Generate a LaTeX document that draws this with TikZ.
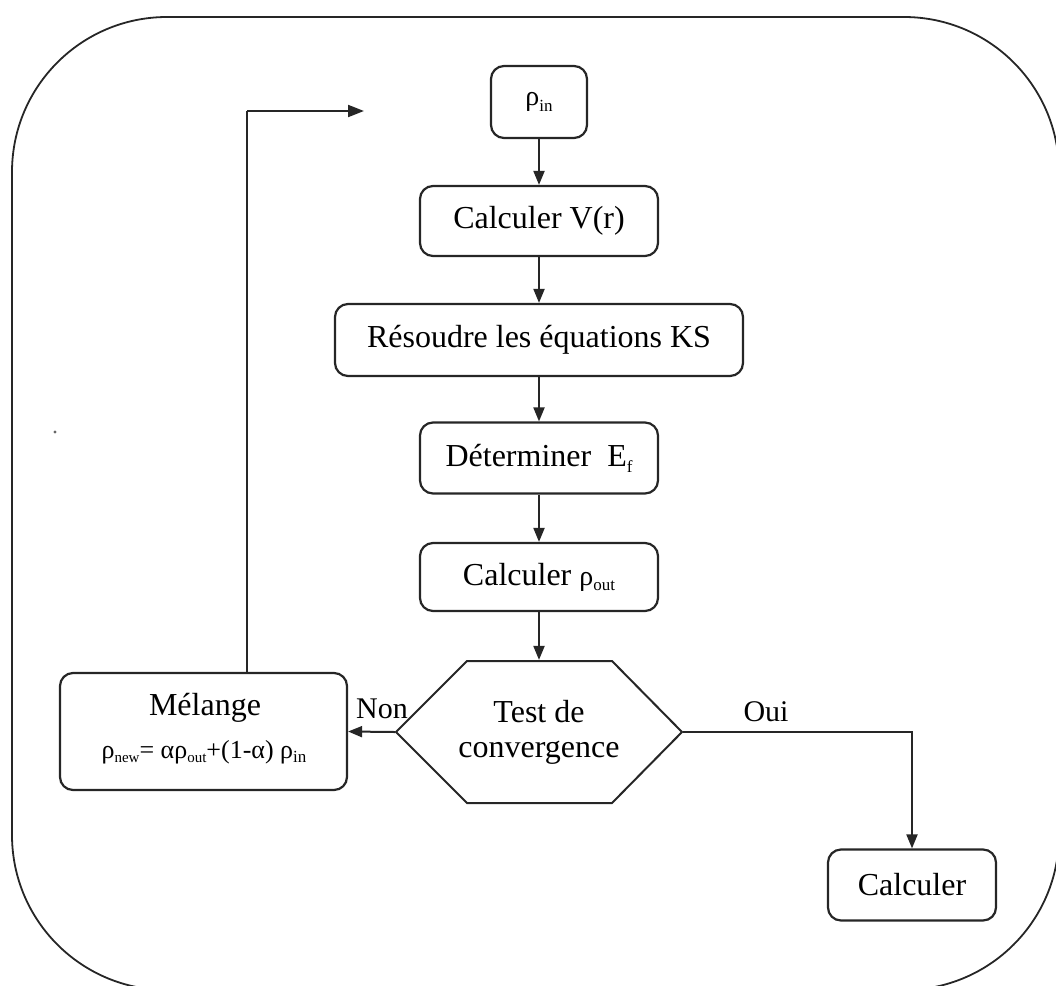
\documentclass[tikz,border=0pt]{standalone}
\usepackage{fontspec}
\setmainfont{Liberation Serif}
\usetikzlibrary{arrows.meta}
\newcommand{\mysub}[1]{\raisebox{-0.18em}{\fontsize{17}{17}\selectfont #1}}
\newcommand{\mysmallsub}[1]{\raisebox{-0.15em}{\fontsize{15}{15}\selectfont #1}}
\begin{document}
\begin{tikzpicture}[x=1pt,y=-1pt,
  line width=2.2pt,
  box/.style={draw=black!85, line width=2.2pt, rounded corners=13pt, inner sep=0pt, align=center,
    font=\fontsize{32}{36}\selectfont},
  conn/.style={draw=black!85, line width=2pt, -{Triangle[length=14pt,width=11pt]}},
  plain/.style={draw=black!85, line width=2pt},
  lab/.style={font=\fontsize{30}{34}\selectfont, inner sep=0pt}
]
\useasboundingbox (0,0) rectangle (1056,985);
\clip (0,0) rectangle (1056,985);
% outer frame
\draw[draw=black!85, line width=1.8pt, rounded corners=155pt] (12,17) rectangle (1059,990);
\fill[black!60] (55,432) circle (1.6pt);
% nodes
\node[box, minimum width=96pt, minimum height=72pt] (rin) at (539,102)
  {{\fontsize{28}{30}\selectfont ρ}\mysub{in}};
\node[box, minimum width=238pt, minimum height=70pt] (cv) at (539,221) {Calculer V(r)};
\node[box, minimum width=408pt, minimum height=72pt] (res) at (539,340) {Résoudre les équations KS};
\node[box, minimum width=238pt, minimum height=71pt] (det) at (539,458) {Déterminer\ \ E\mysub{f}};
\node[box, minimum width=238pt, minimum height=68pt] (cout) at (539,577) {Calculer {\fontsize{28}{30}\selectfont ρ}\mysub{out}};
% hexagon
\node[inner sep=0pt, minimum width=286pt, minimum height=142pt, align=center,
  font=\fontsize{32}{35}\selectfont] (test) at (539,732) {Test de\\convergence};
\draw[draw=black!85, line width=2pt] (396,732) -- (467,661) -- (612,661) -- (682,732) -- (612,803) -- (467,803) -- cycle;
\node[box, minimum width=287pt, minimum height=117pt] (mel) at (203.5,731.5) {};
\node[font=\fontsize{32}{34}\selectfont, inner sep=0pt] (meltitle) at (205,708) {Mélange};
\node[font=\fontsize{26}{28}\selectfont, inner sep=0pt] (melform) at (204,752)
  {ρ\mysmallsub{new}= αρ\mysmallsub{out}+(1-α) ρ\mysub{in}};
\node[box, minimum width=168pt, minimum height=71pt] (calc) at (912,885) {Calculer};
% connectors
\draw[conn] (rin) -- (cv);
\draw[conn] (cv) -- (res);
\draw[conn] (res) -- (det);
\draw[conn] (det) -- (cout);
\draw[conn] (cout) -- (test.north);
\draw[conn] (test.west) -- (mel.east);
\coordinate (fbc) at (247,111);
\coordinate (fbend) at (364,111);
\draw[plain] (fbc |- mel.north) -- (fbc);
\draw[plain, -{Triangle[length=16pt,width=12pt]}] (fbc) -- (fbend);
\draw[conn] (test.east) -| (calc.north);
% labels
\node[lab] (non) at (382,709) {Non};
\node[lab] (oui) at (766,712) {Oui};
\end{tikzpicture}
\end{document}
